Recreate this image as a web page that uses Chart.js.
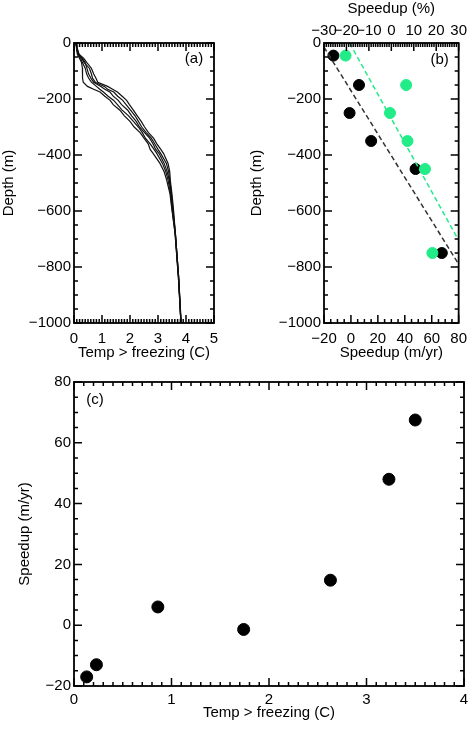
<!DOCTYPE html>
<html>
<head>
<meta charset="utf-8">
<script src="https://cdn.jsdelivr.net/npm/chart.js@4.4.0/dist/chart.umd.min.js"></script>
<style>
  body { margin: 0; background: #fff; }
  canvas { position: absolute; }
</style>
</head>
<body>
<canvas id="chartA" width="237" height="362" style="left:0;top:0"></canvas>
<canvas id="chartB" width="237" height="362" style="left:237px;top:0"></canvas>
<canvas id="chartC" width="474" height="362" style="left:0;top:370px"></canvas>
<script>
// (a) temperature profiles
const depthLevels = [0, -20, -40, -55, -70, -90, -110, -125, -140, -155, -165, -175, -190, -205, -220, -240, -260, -280, -300, -320, -340, -360, -380, -395, -430, -460, -490, -540, -590, -680, -840, -1000];
const profile1 = [0.07, 0.09, 0.12, 0.20, 0.27, 0.30, 0.31, 0.30, 0.33, 0.48, 0.70, 0.93, 1.10, 1.29, 1.40, 1.64, 1.80, 2.00, 2.15, 2.36, 2.50, 2.65, 2.72, 2.83, 3.07, 3.22, 3.31, 3.43, 3.49, 3.61, 3.73, 3.82];
const profile2 = [0.08, 0.10, 0.14, 0.24, 0.30, 0.40, 0.45, 0.52, 0.62, 0.80, 0.92, 1.05, 1.22, 1.42, 1.55, 1.72, 1.95, 2.12, 2.30, 2.44, 2.55, 2.72, 2.86, 2.96, 3.16, 3.28, 3.36, 3.45, 3.50, 3.61, 3.73, 3.82];
const profile3 = [0.06, 0.11, 0.17, 0.30, 0.40, 0.46, 0.52, 0.60, 0.70, 0.96, 1.10, 1.28, 1.40, 1.58, 1.70, 1.92, 2.06, 2.22, 2.34, 2.52, 2.70, 2.82, 2.92, 3.04, 3.22, 3.33, 3.40, 3.47, 3.52, 3.62, 3.74, 3.82];
const profile4 = [0.07, 0.10, 0.15, 0.28, 0.36, 0.55, 0.62, 0.66, 0.76, 1.08, 1.20, 1.42, 1.56, 1.74, 1.86, 2.02, 2.18, 2.30, 2.42, 2.58, 2.76, 2.88, 3.00, 3.10, 3.30, 3.38, 3.42, 3.48, 3.53, 3.62, 3.74, 3.83];
const profile5 = [0.07, 0.12, 0.18, 0.35, 0.46, 0.62, 0.70, 0.78, 0.85, 1.20, 1.38, 1.55, 1.72, 1.88, 1.98, 2.12, 2.26, 2.40, 2.52, 2.66, 2.84, 2.96, 3.10, 3.20, 3.36, 3.42, 3.44, 3.50, 3.55, 3.62, 3.74, 3.82];

// (b) speedup vs depth
const bDepth = [-45, -150, -250, -350, -450, -750];
const bSpeedBlack = [-13, 6, -1, 15, 48, 67.5];
const bSpeedGreen = [-4, 41, 29, 42, 55, 60.5];
const fitBlackX = [-20, 80];
const fitBlackY = [-15, -790];
const fitGreenX = [-1, 80];
const fitGreenY = [0, -705];

// (c) speedup vs temperature
const cTemp = [0.13, 0.23, 0.86, 1.74, 2.63, 3.23, 3.5];
const cSpeed = [-17, -13, 6, -1.4, 14.8, 48, 67.5];

// tick steps: [major, minor]
const ticksA = { x: [1, 0.1], top: [1, 0.1], y: [200, 50] };
const ticksB = { x: [20, 5], top: [10, 1], y: [200, 50] };
const ticksC = { x: [1, 0.1], top: [1, 0.1], y: [20, 5] };

const GREEN = "#22ec88";
const FONT = "'Liberation Sans', Arial, sans-serif";

Chart.defaults.font.family = FONT;
Chart.defaults.font.size = 15;
Chart.defaults.color = "#000";

const fmt = (v) => String(v).replace("-", "\u2212");
const pts = (xs, ys) => xs.map((x, i) => ({ x: x, y: ys[i] }));

// IDL-like frame: box + inward ticks on every side, panel tag
function makeFrame(steps, tag, dx, dy, topId) {
  return {
    id: "frame",
    afterDraw(chart) {
      const ctx = chart.ctx;
      const a = chart.chartArea;
      const sx = chart.scales.x;
      const st = chart.scales[topId || "x"];
      const sy = chart.scales.y;

      ctx.save();
      ctx.setLineDash([]);
      ctx.strokeStyle = "#000";
      ctx.lineWidth = 1.5;
      ctx.beginPath();

      let n = Math.round((sx.max - sx.min) / steps.x[1]);
      for (let i = 0; i <= n; i++) {
        const v = sx.min + i * steps.x[1];
        const r = v / steps.x[0];
        const len = Math.abs(r - Math.round(r)) < 1e-6 ? 8 : 4;
        const p = sx.getPixelForValue(v);
        ctx.moveTo(p, a.bottom);
        ctx.lineTo(p, a.bottom - len);
      }
      n = Math.round((st.max - st.min) / steps.top[1]);
      for (let i = 0; i <= n; i++) {
        const v = st.min + i * steps.top[1];
        const r = v / steps.top[0];
        const len = Math.abs(r - Math.round(r)) < 1e-6 ? 8 : 4;
        const p = st.getPixelForValue(v);
        ctx.moveTo(p, a.top);
        ctx.lineTo(p, a.top + len);
      }
      n = Math.round((sy.max - sy.min) / steps.y[1]);
      for (let i = 0; i <= n; i++) {
        const v = sy.min + i * steps.y[1];
        const r = v / steps.y[0];
        const len = Math.abs(r - Math.round(r)) < 1e-6 ? 8 : 4;
        const p = sy.getPixelForValue(v);
        ctx.moveTo(a.left, p);
        ctx.lineTo(a.left + len, p);
        ctx.moveTo(a.right, p);
        ctx.lineTo(a.right - len, p);
      }
      ctx.stroke();

      ctx.lineWidth = 1.8;
      ctx.strokeRect(a.left, a.top, a.right - a.left, a.bottom - a.top);

      ctx.fillStyle = "#000";
      ctx.font = "15px " + FONT;
      ctx.textAlign = "center";
      ctx.textBaseline = "middle";
      ctx.fillText(tag, dx < 0 ? a.right + dx : a.left + dx, a.top + dy);
      ctx.restore();
    }
  };
}

const axisBase = {
  type: "linear",
  grid: { display: false, drawTicks: false },
  border: { display: false }
};

const commonOpts = {
  responsive: false,
  animation: false,
  events: []
};
const noLegend = { legend: { display: false }, tooltip: { enabled: false } };

// ----- (a)
new Chart(document.getElementById("chartA"), {
  type: "scatter",
  data: {
    datasets: [profile1, profile2, profile3, profile4, profile5].map((p) => ({
      data: pts(p, depthLevels),
      showLine: true,
      borderColor: "#111",
      borderWidth: 1.2,
      pointRadius: 0,
      tension: 0
    }))
  },
  options: {
    ...commonOpts,
    layout: { padding: { top: 43, right: 23, left: 0, bottom: 0 } },
    plugins: noLegend,
    scales: {
      x: {
        ...axisBase, min: 0, max: 5,
        ticks: { stepSize: 1, padding: 7, autoSkip: false, maxRotation: 0, callback: fmt },
        title: { display: true, text: "Temp > freezing (C)", padding: 0 },
        afterFit: (s) => { s.height = 39; }
      },
      y: {
        ...axisBase, min: -1000, max: 0,
        ticks: { stepSize: 200, padding: 3, autoSkip: false, callback: fmt },
        title: { display: true, text: "Depth (m)", padding: 0 },
        afterFit: (s) => { s.width = 74; }
      }
    }
  },
  plugins: [makeFrame(ticksA, "(a)", -20, 16)]
});

// ----- (b)
new Chart(document.getElementById("chartB"), {
  type: "scatter",
  data: {
    datasets: [
      { data: pts(fitBlackX, fitBlackY), showLine: true, borderColor: "#333", borderWidth: 1.5, borderDash: [5, 3], pointRadius: 0 },
      { data: pts(fitGreenX, fitGreenY), showLine: true, borderColor: GREEN, borderWidth: 1.5, borderDash: [5, 3], pointRadius: 0 },
      { data: pts(bSpeedGreen, bDepth), backgroundColor: GREEN, borderColor: GREEN, pointRadius: 5.5 },
      { data: pts(bSpeedBlack, bDepth), backgroundColor: "#000", borderColor: "#000", pointRadius: 5.5 }
    ]
  },
  options: {
    ...commonOpts,
    layout: { padding: { top: 0, right: 10, left: 0, bottom: 0 } },
    plugins: noLegend,
    scales: {
      x: {
        ...axisBase, position: "bottom", min: -20, max: 80,
        ticks: { stepSize: 20, padding: 7, autoSkip: false, maxRotation: 0, callback: fmt },
        title: { display: true, text: "Speedup (m/yr)", padding: 0 },
        afterFit: (s) => { s.height = 39; }
      },
      x2: {
        ...axisBase, position: "top", min: -30, max: 30,
        ticks: { stepSize: 10, padding: 3, autoSkip: false, maxRotation: 0, callback: fmt },
        title: { display: true, text: "Speedup (%)", padding: 0 },
        afterFit: (s) => { s.height = 43; }
      },
      y: {
        ...axisBase, min: -1000, max: 0,
        ticks: { stepSize: 200, padding: 3, autoSkip: false, callback: fmt },
        title: { display: true, text: "Depth (m)", padding: { top: 11, bottom: 0 } },
        afterFit: (s) => { s.width = 87; }
      }
    }
  },
  plugins: [makeFrame(ticksB, "(b)", -19, 17, "x2")]
});

// ----- (c)
new Chart(document.getElementById("chartC"), {
  type: "scatter",
  data: {
    datasets: [
      { data: pts(cTemp, cSpeed), backgroundColor: "#000", borderColor: "#000", pointRadius: 6 }
    ]
  },
  options: {
    ...commonOpts,
    layout: { padding: { top: 10, right: 10, left: 0, bottom: 10 } },
    plugins: noLegend,
    scales: {
      x: {
        ...axisBase, min: 0, max: 4,
        ticks: { stepSize: 1, padding: 5, autoSkip: false, maxRotation: 0, callback: fmt },
        title: { display: true, text: "Temp > freezing (C)", padding: 0 },
        afterFit: (s) => { s.height = 36; }
      },
      y: {
        ...axisBase, min: -20, max: 80,
        ticks: { stepSize: 20, padding: 3, autoSkip: false, callback: fmt },
        title: { display: true, text: "Speedup (m/yr)", padding: { top: 16, bottom: 0 } },
        afterFit: (s) => { s.width = 74; }
      }
    }
  },
  plugins: [makeFrame(ticksC, "(c)", 21, 18)]
});
</script>
</body>
</html>
